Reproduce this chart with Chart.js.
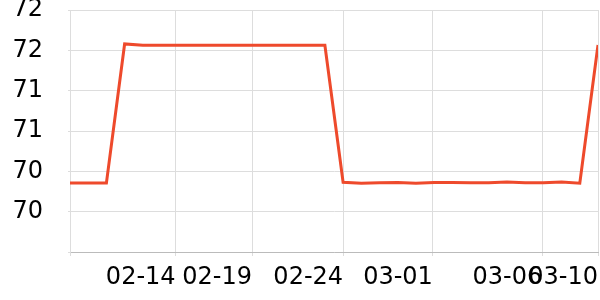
<!DOCTYPE html>
<html>
<head>
<meta charset="utf-8">
<script src="https://cdn.jsdelivr.net/npm/chart.js"></script>
<style>
  html, body { margin: 0; padding: 0; background: #fff; }
</style>
</head>
<body>
<canvas id="chart" width="600" height="300"></canvas>
<script>
// sample times (irregular), one value per sample
const sampleTimes = [
  '2023-02-08 10:00', '2023-02-09 11:00', '2023-02-10 09:00', '2023-02-11 14:00',
  '2023-02-12 08:00', '2023-02-13 12:00', '2023-02-14 03:00', '2023-02-15 06:00',
  '2023-02-16 09:00', '2023-02-17 20:00', '2023-02-19 00:00', '2023-02-20 00:00',
  '2023-02-21 00:00', '2023-02-22 00:00', '2023-02-23 00:00', '2023-02-24 00:00',
  '2023-02-25 00:00', '2023-02-26 00:00', '2023-02-27 00:00', '2023-02-28 04:00',
  '2023-03-01 01:30', '2023-03-02 02:00', '2023-03-03 00:00', '2023-03-04 00:00',
  '2023-03-05 00:00', '2023-03-05 08:00', '2023-03-06 01:00', '2023-03-07 12:00',
  '2023-03-08 18:00', '2023-03-10 00:00'
];
const values = [
  69.855, 69.855, 69.855, 71.579, 71.563, 71.563, 71.563, 71.563,
  71.563, 71.563, 71.563, 71.563, 71.563, 71.563, 71.563, 69.864,
  69.853, 69.858, 69.862, 69.853, 69.862, 69.862, 69.858, 69.858,
  69.868, 69.858, 69.858, 69.869, 69.853, 71.566
];
const tickDates = ['2023-02-14', '2023-02-19', '2023-02-24', '2023-03-01', '2023-03-06', '2023-03-10'];

const yMin = 69;
const yMax = 72;
const yStep = 0.5;

function toDays(s) {
  if (s.length <= 10) s = s + ' 00:00';
  return Date.parse(s.replace(' ', 'T') + ':00Z') / 86400000;
}

// timeseries-like: samples evenly spaced, ticks placed between samples by time
const t = sampleTimes.map(toDays);
function timeToIndex(d) {
  for (let i = 0; i < t.length - 1; i++) {
    if (d >= t[i] && d <= t[i + 1]) return i + (d - t[i]) / (t[i + 1] - t[i]);
  }
  return d < t[0] ? 0 : t.length - 1;
}
const tickPos = tickDates.map(d => timeToIndex(toDays(d)));

Chart.defaults.font.family = 'DejaVu Sans';
Chart.defaults.font.size = 24;
Chart.defaults.color = '#000';

const ctx = document.getElementById('chart').getContext('2d');
new Chart(ctx, {
  type: 'line',
  data: {
    datasets: [{
      data: values.map((v, i) => ({ x: i, y: v })),
      borderColor: '#ee4a2c',
      borderWidth: 3,
      pointRadius: 0,
      tension: 0,
      fill: false
    }]
  },
  options: {
    responsive: false,
    animation: false,
    devicePixelRatio: 1,
    layout: { padding: { top: 10, right: 2, bottom: 0, left: 0 } },
    plugins: { legend: { display: false }, tooltip: { enabled: false } },
    scales: {
      x: {
        type: 'linear',
        min: 0,
        max: values.length - 1,
        afterBuildTicks(scale) {
          scale.ticks = [{ value: 0 }].concat(tickPos.map(v => ({ value: v })));
        },
        ticks: {
          autoSkip: false,
          maxRotation: 0,
          minRotation: 0,
          align: 'end',
          padding: 7,
          callback: (v, i) => i === 0 ? '' : tickDates[i - 1].slice(5)
        },
        grid: { color: '#dddddd', tickLength: 4 },
        border: { color: '#bbbbbb' },
        afterFit(scale) {
          scale.height = 48;
          scale.paddingLeft = 0;
          scale.paddingRight = 0;
        }
      },
      y: {
        min: yMin,
        max: yMax,
        ticks: {
          stepSize: yStep,
          padding: 25,
          callback: v => v === yMin ? '' : v.toFixed(0)
        },
        grid: { color: '#dddddd', tickLength: 2 },
        border: { color: '#dddddd' },
        afterFit(scale) {
          scale.width = 70;
          scale.paddingTop = 0;
          scale.paddingBottom = 0;
        }
      }
    }
  }
});
</script>
</body>
</html>
